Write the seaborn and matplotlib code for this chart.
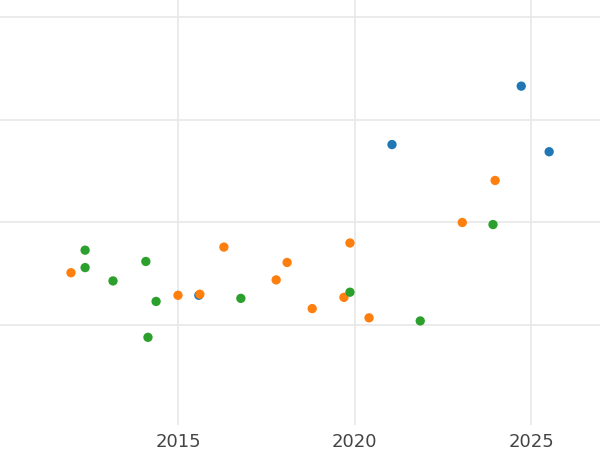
import matplotlib
matplotlib.use("Agg")
import matplotlib.pyplot as plt
import seaborn as sns
import pandas as pd

blue_x = [2024.72, 2021.06, 2025.51, 2015.59]
blue_y = [3.33, 2.76, 2.69, 1.29]
orange_x = [2011.97, 2015.0, 2015.62, 2016.30, 2017.78, 2018.09, 2018.80, 2019.70, 2019.87, 2020.41, 2023.05, 2023.98]
orange_y = [1.51, 1.29, 1.30, 1.76, 1.44, 1.61, 1.16, 1.27, 1.80, 1.07, 2.00, 2.41]
green_x = [2012.37, 2012.37, 2013.16, 2014.09, 2014.38, 2014.15, 2016.78, 2019.87, 2021.86, 2023.92]
green_y = [1.73, 1.56, 1.43, 1.62, 1.23, 0.88, 1.26, 1.32, 1.04, 1.98]
x_ticks = [2015, 2020, 2025]
y_ticks = [1, 2, 3, 4]

df = pd.concat([
    pd.DataFrame({"x": blue_x, "y": blue_y, "g": "a"}),
    pd.DataFrame({"x": orange_x, "y": orange_y, "g": "b"}),
    pd.DataFrame({"x": green_x, "y": green_y, "g": "c"}),
])

sns.set_theme(style="whitegrid")
fig = plt.figure(figsize=(6, 4.5), dpi=100)
ax = fig.add_axes([0, 0.0556, 1, 0.9444])
sns.scatterplot(data=df, x="x", y="y", hue="g", hue_order=["a", "b", "c"],
                palette=["#1f77b4", "#ff7f0e", "#2ca02c"], s=45, edgecolor="none",
                legend=False, ax=ax)
ax.set_xlim(2009.96, 2026.95)
ax.set_ylim(0.025, 4.17)
ax.set_xticks(x_ticks)
ax.set_yticks(y_ticks)
ax.set_yticklabels([])
ax.set_xlabel("")
ax.set_ylabel("")
ax.tick_params(axis="x", labelsize=13, colors="#444444", pad=0)
ax.tick_params(axis="y", length=0)
ax.grid(True, color="#e8e8e8", linewidth=1.2)
for s in ax.spines.values():
    s.set_visible(False)
fig.savefig("out.png", dpi=100)
